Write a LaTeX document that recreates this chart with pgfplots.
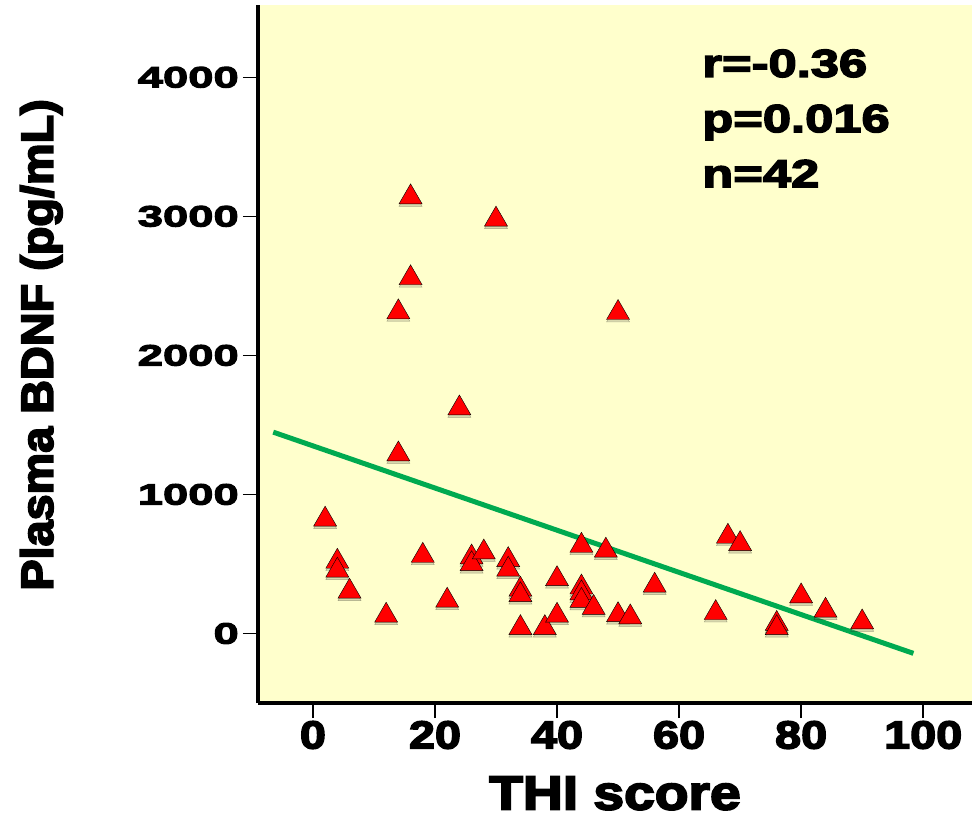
\documentclass[border=0pt]{standalone}
\usepackage{fontspec}
\usepackage{pgfplots}
\pgfplotsset{compat=1.18}
\setmainfont{Liberation Sans}
\newfontfamily\ytfont[FakeStretch=1.55,FakeBold=4]{Liberation Sans Bold}
\newfontfamily\xtfont[FakeStretch=1.2,FakeBold=4]{Liberation Sans Bold}
\newfontfamily\anfont[FakeStretch=1.3,FakeBold=4]{Liberation Sans Bold}
\newfontfamily\xlfont[FakeStretch=1.15,FakeBold=4]{Liberation Sans Bold}
\newfontfamily\ylfont[FakeStretch=1.04,FakeBold=4]{Liberation Sans Bold}
\definecolor{bgyellow}{RGB}{255,255,204}
\definecolor{fitgreen}{RGB}{0,170,80}
\pgfplotstableread{
x y
2 820
4 517
4 453
6 302
12 129
18 560
22 237
26 548
26 500
28 584
32 529
32 460
34 316
34 277
34 40
38 40
40 392
40 129
44 632
44 332
44 290
44 236
46 185
48 597
50 133
52 117
56 345
66 148
68 697
70 644
76 70
76 40
80 268
84 165
90 81
16 3138
30 2978
16 2556
14 2311
50 2306
24 1620
14 1289
}\bdnf
\pgfplotstableread{
x y
-6.5 1448
98.4 -143
}\fit
\begin{document}
\begin{tikzpicture}
\begin{axis}[
  scale only axis,
  width=714bp, height=698bp,
  xmin=-9, xmax=108,
  ymin=-500, ymax=4520,
  axis x line=bottom, axis y line=left,
  axis line style={-, line width=3.5bp, black},
  axis background/.style={fill=bgyellow},
  xtick={0,20,...,100},
  ytick={0,1000,...,4000},
  tick align=outside,
  major tick length=15bp,
  every tick/.style={black, line width=1.5bp},
  /pgf/number format/assume math mode=true,
  /pgf/number format/1000 sep={},
  xticklabel style={font=\xtfont\fontsize{39bp}{39bp}\selectfont, inner sep=0pt, yshift=-3bp},
  yticklabel style={font=\ytfont\fontsize{29.3bp}{29.3bp}\selectfont, inner sep=0pt, xshift=-4bp},
  xlabel={THI score},
  xlabel style={font=\xlfont\fontsize{48bp}{48bp}\selectfont, at={(axis description cs:0.5,-0.1050)}, anchor=north, inner sep=0pt},
  ylabel={Plasma BDNF (pg/mL)},
  ylabel style={font=\ylfont\fontsize{45bp}{45bp}\selectfont, at={(axis description cs:-0.3333,0.513)}, anchor=north, rotate=0, inner sep=0pt},
]
\addplot[fitgreen, line width=5bp] table {\fit};
\addplot[only marks, mark=triangle*, mark size=13.3bp, mark options={fill=black!50!bgyellow, draw=none, opacity=0.3, yshift=-2.5bp}] table {\bdnf};
\addplot[only marks, mark=triangle*, mark size=13.3bp, mark options={fill=red, draw=none}] table {\bdnf};
\node[anchor=base west, inner sep=0pt, font=\anfont\fontsize{39bp}{39bp}\selectfont] at (axis description cs:0.622,0.897) {r=-0.36};
\node[anchor=base west, inner sep=0pt, font=\anfont\fontsize{39bp}{39bp}\selectfont] at (axis description cs:0.622,0.818) {p=0.016};
\node[anchor=base west, inner sep=0pt, font=\anfont\fontsize{39bp}{39bp}\selectfont] at (axis description cs:0.622,0.739) {n=42};
\end{axis}
\pgfresetboundingbox
\path[use as bounding box] ([xshift=-258bp,yshift=-116bp]current axis.south west) rectangle ([yshift=5bp]current axis.north east);
\end{tikzpicture}
\end{document}
